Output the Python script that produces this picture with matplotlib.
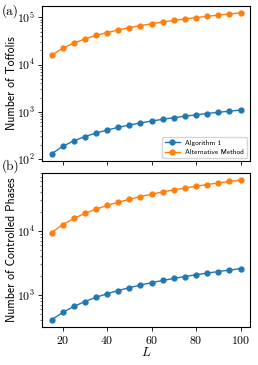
import matplotlib
matplotlib.use("Agg")
import matplotlib.pyplot as plt

# =========================
# data
# =========================
L = [15, 20, 25, 30, 35, 40, 45, 50, 55, 60, 65, 70, 75, 80, 85, 90, 95, 100]

toffoli_alg1 = [128, 185, 242, 298, 355, 411, 468, 524, 581, 637,
                694, 750, 807, 863, 920, 976, 1033, 1089]
toffoli_alt = [15800, 22200, 28600, 35000, 41500, 47900, 54300, 60700, 67200,
               73600, 80000, 86400, 92900, 99300, 105700, 112100, 118600, 125000]

cphase_alg1 = [403, 530, 658, 785, 913, 1040, 1168, 1295, 1423,
               1550, 1678, 1805, 1933, 2060, 2188, 2315, 2443, 2570]
cphase_alt = [9400, 12535, 15670, 18800, 21940, 25075, 28210, 31345, 34480,
              37615, 40750, 43885, 47020, 50155, 53290, 56425, 59560, 62700]

labels = ['Algorithm 1', 'Alternative Method']

# =========================
# style
# =========================
plt.rcParams['mathtext.fontset'] = 'cm'
plt.rcParams['font.family'] = ['cmss10', 'DejaVu Sans']
plt.rcParams['axes.formatter.use_mathtext'] = True
plt.rcParams['axes.linewidth'] = 0.8

fig = plt.figure(figsize=(2.58, 3.65), dpi=100)
ax1 = fig.add_axes([0.163, 0.559, 0.806, 0.425])
ax2 = fig.add_axes([0.163, 0.104, 0.806, 0.422], sharex=ax1)

kw = dict(marker='o', markersize=3.5, linewidth=1.0)

ax1.plot(L, toffoli_alg1, color='#1f77b4', label=labels[0], **kw)
ax1.plot(L, toffoli_alt, color='#ff7f0e', label=labels[1], **kw)
ax1.set_yscale('log')
ax1.set_ylabel('Number of Toffolis', fontsize=8.5)
ax1.tick_params(labelbottom=False)
ax1.legend(loc='lower right', fontsize=5.2, handlelength=2.0, framealpha=0.8,
           borderaxespad=0.4)

ax2.plot(L, cphase_alg1, color='#1f77b4', **kw)
ax2.plot(L, cphase_alt, color='#ff7f0e', **kw)
ax2.set_yscale('log')
ax2.set_ylabel('Number of Controlled Phases', fontsize=8.5)
ax2.set_xlabel('$L$', fontsize=9.5, labelpad=0)
ax2.set_xticks([20, 40, 60, 80, 100])

for ax in (ax1, ax2):
    ax.yaxis.set_label_coords(-0.115, 0.5)
    ax.tick_params(axis='both', which='major', labelsize=8.5, length=3, width=0.6, pad=2)
    ax.tick_params(axis='both', which='minor', length=1.5, width=0.4)
    for t in ax.get_xticklabels() + ax.get_yticklabels():
        t.set_fontfamily('cmr10')

fig.text(0.005, 0.988, '(a)', fontsize=9.5, family='cmr10', va='top')
fig.text(0.005, 0.563, '(b)', fontsize=9.5, family='cmr10', va='top')

fig.savefig('out.png', dpi=100)
